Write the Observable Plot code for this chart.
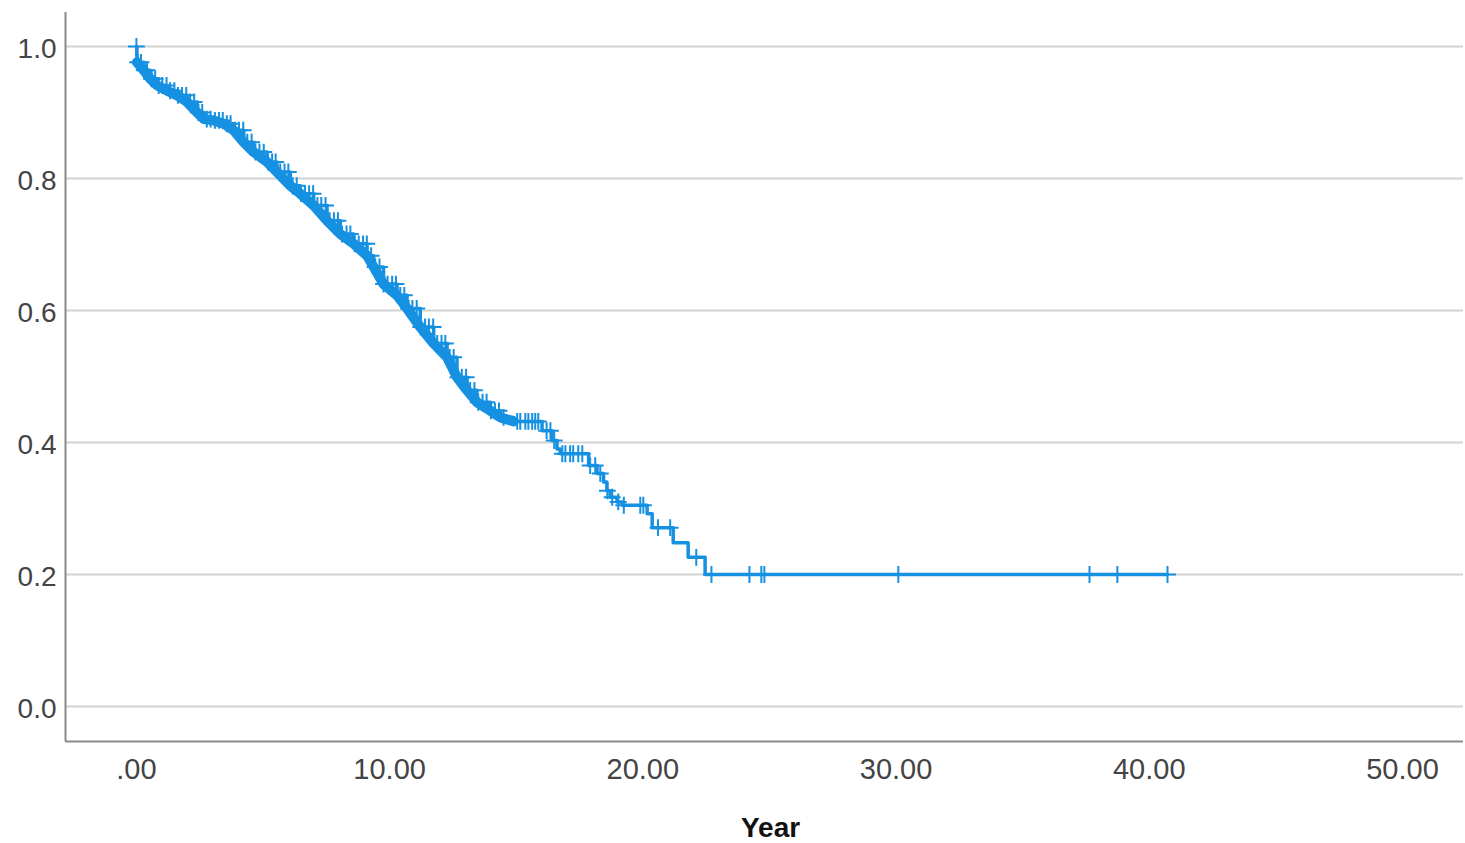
<!DOCTYPE html>
<html>
<head>
<meta charset="utf-8">
<script src="https://cdn.jsdelivr.net/npm/d3@7"></script>
<script src="https://cdn.jsdelivr.net/npm/@observablehq/plot@0.6"></script>
<style>
  html, body { margin: 0; padding: 0; background: #fff; }
  #chart svg { display: block; font-family: "Liberation Sans", Arial, sans-serif; }
</style>
</head>
<body>
<div id="chart"></div>
<script>
// Kaplan-Meier survival steps (time in years, cumulative survival after the event)
const stepTimes = [0, 0.02, 0.29, 0.55, 0.82, 1.21, 1.61, 2.00, 2.40, 2.66, 3.05, 3.45, 3.84, 4.24, 4.63,
  5.16, 5.55, 6.08, 6.47, 7.00, 7.53, 8.05, 8.58, 9.11, 9.37, 9.76, 10.29, 10.69, 11.21, 11.74,
  12.27, 12.66, 13.06, 13.45, 13.98, 14.37, 14.90, 16.02, 16.41, 16.61, 16.74, 17.86, 18.19,
  18.45, 18.58, 18.71, 18.98, 19.19, 20.17, 20.37, 21.20, 21.79, 22.46];
const stepSurv = [1.000, 0.976, 0.964, 0.951, 0.941, 0.933, 0.926, 0.916, 0.900, 0.890, 0.888, 0.883, 0.873, 0.855, 0.840,
  0.825, 0.810, 0.789, 0.777, 0.759, 0.736, 0.716, 0.701, 0.683, 0.666, 0.640, 0.623, 0.603, 0.575, 0.550,
  0.529, 0.499, 0.479, 0.461, 0.448, 0.438, 0.432, 0.418, 0.403, 0.390, 0.383, 0.365, 0.353,
  0.340, 0.327, 0.317, 0.310, 0.305, 0.292, 0.271, 0.248, 0.226, 0.200];

// Censored observations (years)
const censorTimes = [0, 0.05, 0.18, 0.31, 0.42, 0.6, 0.74, 0.88, 1.02, 1.19, 1.33, 1.5, 1.64, 1.8, 1.97,
  2.12, 2.28, 2.45, 2.6, 2.78, 2.93, 3.1, 3.26, 3.41, 3.57, 3.72, 3.9, 4.05, 4.22, 4.38, 4.55, 4.7,
  4.86, 5.03, 5.2, 5.36, 5.5, 5.68, 5.85, 6.0, 6.17, 6.33, 6.5, 6.66, 6.82, 6.98, 7.15, 7.3, 7.47,
  7.63, 7.8, 7.96, 8.12, 8.3, 8.45, 8.62, 8.78, 8.95, 9.1, 9.27, 9.43, 9.6, 9.76, 9.92, 10.1, 10.25,
  10.42, 10.58, 10.75, 10.9, 11.07, 11.23, 11.4, 11.55, 11.72, 11.88, 12.05, 12.2, 12.37, 12.53,
  12.7, 12.85, 13.02, 13.18, 13.35, 13.5, 13.67, 13.83, 14.0, 14.16, 14.32, 14.5,
  15.04, 15.16, 15.36, 15.48, 15.63, 15.75, 15.87, 16.2, 16.35, 16.5,
  16.82, 16.94, 17.13, 17.25, 17.45, 17.61, 17.92, 18.12, 18.32, 18.6, 18.79, 19.03,
  19.25, 19.9, 20.02, 20.6, 21.08, 22.11,
  22.71, 24.21, 24.68, 24.80, 30.09, 37.64, 38.74, 40.72];

const xTicks = [0, 10, 20, 30, 40, 50];
const yTicks = [0, 0.2, 0.4, 0.6, 0.8, 1.0];
const xDomain = [-2.80, 52.41];
const yDomain = [-0.053, 1.0515];
const xLabel = "Year";
const denseEnd = 14.9; // years: region where events and censorings merge into a solid band

const blue = "#1691e2";

function survAt(t) {
  const i = d3.bisectRight(stepTimes, t) - 1;
  return stepSurv[Math.max(0, i)];
}

const curve = stepTimes.map((t, i) => ({t, s: stepSurv[i]}));
const lastCensor = censorTimes[censorTimes.length - 1];
curve.push({t: lastCensor, s: survAt(lastCensor)});
const censors = censorTimes.map(t => ({t, s: survAt(t)}));
const dense = curve.filter(d => d.t > 0 && d.t <= denseEnd);

const chart = Plot.plot({
  width: 1465,
  height: 843,
  marginLeft: 65,
  marginRight: 2,
  marginTop: 12,
  marginBottom: 102,
  style: {fontFamily: "'Liberation Sans', Arial, sans-serif", color: "#444", background: "#fff"},
  x: {domain: xDomain},
  y: {domain: yDomain},
  marks: [
    Plot.gridY(yTicks, {stroke: "#d2d2d2", strokeOpacity: 1, strokeWidth: 2}),
    Plot.ruleX([xDomain[0]], {stroke: "#8a8a8a", strokeWidth: 2}),
    Plot.ruleY([yDomain[0]], {stroke: "#8a8a8a", strokeWidth: 2}),
    Plot.axisY(yTicks, {tickSize: 0, tickPadding: 9, fontSize: 28, tickFormat: d3.format(".1f"), label: null, dy: 3}),
    Plot.axisX(xTicks, {tickSize: 0, tickPadding: 17, fontSize: 29, tickFormat: d => d === 0 ? ".00" : d.toFixed(2), label: null}),
    Plot.text([xLabel], {frameAnchor: "bottom", dy: 95, dx: 6, fontSize: 28, fontWeight: "bold", fill: "#111"}),
    Plot.line(dense, {x: "t", y: "s", curve: "linear", stroke: blue, strokeWidth: 10, strokeLinecap: "round", strokeLinejoin: "round"}),
    Plot.line(curve, {x: "t", y: "s", curve: "step-after", stroke: blue, strokeWidth: 3.5}),
    Plot.dot(censors, {x: "t", y: "s", symbol: "plus", r: 5.5, stroke: blue, strokeWidth: 2})
  ]
});
document.getElementById("chart").appendChild(chart);
</script>
</body>
</html>
